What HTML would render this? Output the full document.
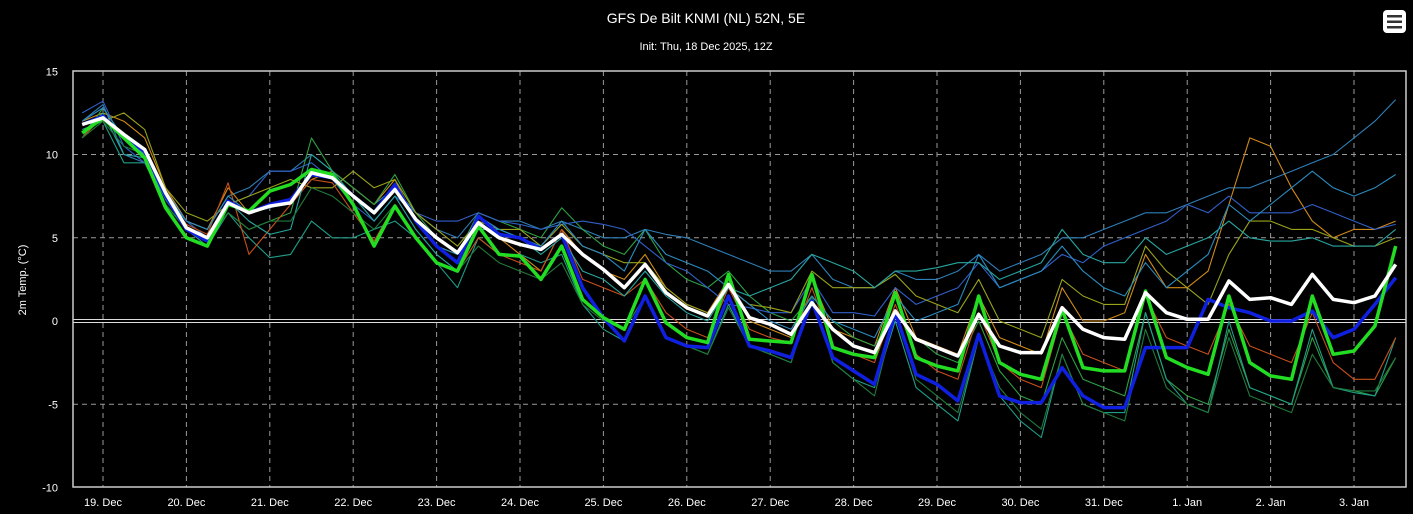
<!DOCTYPE html>
<html><head><meta charset="utf-8"><style>
html,body{margin:0;padding:0;background:#000;width:1413px;height:514px;overflow:hidden}
svg{display:block}
text{font-family:"Liberation Sans",sans-serif;fill:#fff}
</style></head><body>
<svg id="chart" width="1413" height="514">
<rect x="0" y="0" width="1413" height="514" fill="#000"/>
<text x="706" y="23" font-size="14" text-anchor="middle">GFS De Bilt KNMI (NL) 52N, 5E</text>
<text x="706" y="50" font-size="11" text-anchor="middle">Init: Thu, 18 Dec 2025, 12Z</text>
<g>
<rect x="1383" y="10" width="23" height="23" rx="4" fill="#fff"/>
<rect x="1387" y="15" width="15" height="2.5" fill="#333"/>
<rect x="1387" y="20.5" width="15" height="2.5" fill="#333"/>
<rect x="1387" y="26" width="15" height="2.5" fill="#333"/>
</g>
<text transform="translate(26,280) rotate(-90)" font-size="11" text-anchor="middle">2m Temp. (°C)</text>
<g id="grid"></g>
<g id="series"></g>
<rect x="73" y="71" width="1333" height="416" fill="none" stroke="#ccc" stroke-width="1.5"/>
</svg>
<script>
const yTicks=[15,10,5,0,-5,-10];
const xTickLabels=["19. Dec","20. Dec","21. Dec","22. Dec","23. Dec","24. Dec","25. Dec","26. Dec","27. Dec","28. Dec","29. Dec","30. Dec","31. Dec","1. Jan","2. Jan","3. Jan"];
const meanSeries=[11.8,12.2,11.2,10.3,7.7,5.6,5.0,7.1,6.5,6.9,7.1,8.9,8.6,7.5,6.5,7.9,6.1,5.0,4.1,5.9,5.0,4.6,4.3,5.2,4.0,3.1,2.0,3.4,1.7,0.8,0.3,2.2,0.2,-0.2,-0.8,1.1,-0.5,-1.5,-1.9,0.6,-1.1,-1.6,-2.1,0.4,-1.5,-1.9,-1.9,0.8,-0.5,-1.0,-1.1,1.7,0.5,0.1,0.1,2.4,1.3,1.4,1.0,2.8,1.3,1.1,1.5,3.4];
const controlSeries=[11.3,12.2,11,9.8,6.8,5.0,4.5,7,6.6,7.8,8.2,9.1,8.8,7,4.5,6.9,5,3.5,3,5.7,4,3.9,2.5,4.5,1.3,0.2,-0.5,2.5,-0.1,-1,-1.3,2.8,-1.1,-1.2,-1.3,2.8,-1.6,-2,-2.2,1.7,-2.2,-2.7,-3,1.5,-2.5,-3.2,-3.5,0.7,-2.8,-3,-3,1.8,-2.2,-2.8,-3.2,1.5,-2.5,-3.3,-3.5,1.5,-2,-1.8,-0.3,4.5];
const operSeries=[11.8,12.3,11,10.2,7.5,5.5,4.8,7.2,6.5,7,7.3,8.8,8.6,7.5,6.5,8.2,6,4.5,3.5,6.3,5.2,5,4.3,5.2,2,0.2,-1.2,1.5,-1,-1.5,-1.6,1.5,-1.5,-1.8,-2.2,1.2,-2.2,-3,-3.8,0.5,-3.2,-3.8,-4.8,-0.8,-4.5,-4.9,-4.9,-2.8,-4.5,-5.2,-5.2,-1.6,-1.6,-1.6,1.3,0.8,0.5,0,0,0.6,-1,-0.5,1,2.6];
const member1=[12,13,10,9.5,7.5,6,5.5,7.5,8,9,9,10,9,8,7,8,6.5,5.5,5,6.5,6,6,5.5,6,5.5,5,5,5.5,5.2,5,4.5,4,3.5,3,3,4,2.5,2,2,3,2.5,2.5,3,4,3,3.5,4,5,5,5.5,6,6.5,6.5,7,7.5,8,8,8.5,9,9.5,10,11,12,13.3];
const member2=[12,12.5,12,11,8,6,5.5,8,6.5,7,7,8.5,9,8,7,8.5,6,4.5,4,6,5,4,3,5.5,4,3,2.5,4,2,1,0.5,2.5,0,-0.5,-1,2.5,-0.5,-1,-1.5,2,-1,-1.5,-2,1.5,-1,-1.5,-2,2,0,0,0.5,4,2,2,3,7,11,10.5,8,6,5,5.5,5.5,6];
const member3=[11,12.8,11,10,7,5.5,5,6.5,5.5,6,6.5,11,9,8,7,8.8,6.5,5,4,6.5,6,5.5,5,6.8,5.5,4.5,4,5.5,3.5,2.5,2,3,1.5,0.5,0,1.5,0,-1,-1.5,0.5,-1,-2,-2.5,0,-3,-4.5,-5,-1,-3.5,-4,-4.5,0.5,-3.5,-4.5,-5,-0.5,-4,-4.5,-5,-1,-4,-4.2,-4.5,-2.2];
const member4=[11.5,12,9.5,9.5,7,5.5,4.5,6.5,5,3.8,4,6,5,5,5.5,6,5,3.5,2,5,4,4,3.5,4,1,-0.5,-1.2,1.5,-1,-1.5,-2,1,-1.5,-2,-2.5,1.5,-2.5,-3.5,-4,0,-4,-5,-6,-1,-4.5,-6,-7,-2,-5,-5.5,-5.5,0.5,-3.5,-5,-5.5,0,-4,-4.5,-5,-0.5,-4,-4.3,-4.5,-1];
const member5=[12.5,13.2,10.5,9.5,7.5,6,5,7,7.5,9,9,9.5,8.5,7,6,7.5,6.5,6,6,6.5,6,5.8,5.5,5.8,6,5.8,5.5,4.5,3.5,3,2,1,0.8,0.5,0.5,2.5,0.5,0.5,0.3,2,1,1.5,2,3.5,2,2.5,3,4,3.5,4.5,5,5.5,6,7,6.5,7.5,6.5,6.5,6.5,7,6.5,6,5.5,5.8];
const member6=[11.8,12,12.5,11.5,8,6.5,6,7,7.5,8,8.5,8,8,9,8,8.5,6.5,5.5,4.5,6,5.5,5.5,4.5,5.8,4.5,4,3.5,3.5,2,1,0.5,2,1,0.8,0.5,3,2,2,2,2.8,1.5,1,0.5,2.5,0,-0.5,-1,2.5,1.5,1,1,4.5,3,2,1,4,6,6,5.5,5.5,5,4.5,4.5,5];
const member7=[11,12.3,11,10,7.5,5.8,5.2,8.3,4,5.5,7,8.5,8.3,6.5,4.8,7,5,3.5,3,5,4,3.5,3,5.5,2.5,2,1.5,2.5,0.5,-0.5,-1,2,-0.5,-1,-1.3,2,-1.5,-2,-2.5,1,-2,-3,-3.5,0.5,-2.5,-3.5,-4,0.5,-2,-2.5,-3,1.5,-1,-1.5,-2,1,-1.5,-2,-2.5,0.5,-2.5,-3.5,-3.5,-1];
const member8=[11.3,12.5,10,9.8,7.3,5.5,5,7.2,6,5.2,5.5,10,9,7.5,6,7.5,5.5,4,3,5.5,5.5,5,4,5,3,2.5,1.5,3,1.5,0.5,0,2,1.5,2,2.5,4,3.5,3,2,3,3,3.2,3.5,3.5,2.5,3,3.5,5.5,4,3.5,3.5,5,4,4.5,5,6,5,4.8,4.8,5,4.5,4.5,4.5,5.5];
const member9=[11,12,10.5,10,7,5.5,4.8,6.5,5.5,6,6,8,7.5,6.5,5.5,7,5,3.5,3,4.5,3.5,3,2.5,3.5,1,0,-0.5,1.5,-1,-1.5,-2,0.8,-1.5,-2,-2.5,1.5,-2.5,-3.5,-4.5,0.5,-3.5,-4.5,-5.5,-1,-4,-5.5,-6.5,-2,-5,-5.5,-6,-0.5,-4,-5,-5.5,-1,-4.5,-5,-5.5,-2,-4,-4.2,-4.2,-2.2];
const member10=[12,12.8,11,10,7.8,6,5.5,7.5,6.5,6.8,7.2,9,8.5,7.5,6.5,8,6,4.5,4,6.3,5.5,5,4.5,6,4.5,4,3,5.5,4,3.5,3,2,1,0,-0.5,1.5,0,-0.5,-1,1.5,0,0.5,1,4,2,2.5,3,4.5,3,2,1.5,3.5,2,3,4,7,6,7,8,9,8,7.5,8,8.8];

const X0=103, DAY=83.4, Y0=321, PX=16.65;
function xScale(i){return X0-DAY/4+i*DAY/4;}
function xDay(d){return X0+d*DAY;}
function yScale(v){return Y0-v*PX;}
const NS="http://www.w3.org/2000/svg";
const grid=document.getElementById('grid'), series=document.getElementById('series'), svg=document.getElementById('chart');
function mk(tag,attrs,parent){const e=document.createElementNS(NS,tag);for(const k in attrs)e.setAttribute(k,attrs[k]);parent.appendChild(e);return e;}
yTicks.forEach(v=>{
  const y=yScale(v);
  if(v!==15&&v!==-10&&v!==0){
    const l=mk('line',{x1:73,x2:1406,y1:y,y2:y,stroke:'#9a9a9a','stroke-dasharray':'5,4','stroke-width':1},grid);
    
    
  }
  const t=mk('text',{x:58,y:y+4,'font-size':11,'text-anchor':'end'},svg);
  t.textContent=String(v);
  
  
});
xTickLabels.forEach((lab,d)=>{
  const x=xDay(d);
  const l=mk('line',{x1:x,x2:x,y1:71,y2:487,stroke:'#9a9a9a','stroke-dasharray':'5,4','stroke-width':1},grid);
  
  
  const t=mk('text',{x:x,y:506,'font-size':11,'text-anchor':'middle'},svg);
  t.textContent=lab;
  
  
});
const zy=yScale(0);
const z=mk('rect',{x:73,y:zy-1.5,width:1333,height:3,fill:'none',stroke:'#ddd','stroke-width':1},grid);


function path(arr){return arr.map((v,i)=>(i?'L':'M')+xScale(i).toFixed(1)+','+yScale(v).toFixed(1)).join(' ');}
const members=[member1,member2,member3,member4,member5,member6,member7,member8,member9,member10];
const memberColors=['#2f7fb8','#d08a18','#2ea043','#1f9e89','#3060c8','#9aa31a','#c8501a','#27a6a0','#1f7a3a','#2a8cc0'];
members.forEach((m,k)=>{
  const p=mk('path',{d:path(m),fill:'none',stroke:memberColors[k],'stroke-width':1.1,'stroke-linejoin':'round'},series);
  
  
});
const pb=mk('path',{d:path(operSeries),fill:'none',stroke:'#1020e0','stroke-width':3.5,'stroke-linejoin':'round'},series);


const pg=mk('path',{d:path(controlSeries),fill:'none',stroke:'#22dd22','stroke-width':3.5,'stroke-linejoin':'round'},series);


const pw=mk('path',{d:path(meanSeries),fill:'none',stroke:'#ffffff','stroke-width':3.5,'stroke-linejoin':'round'},series);


</script>
</body></html>
